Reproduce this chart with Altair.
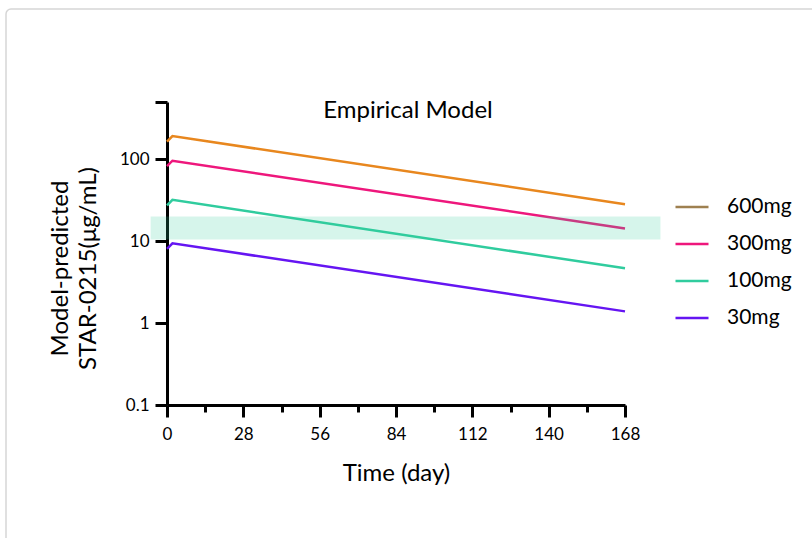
import altair as alt
import pandas as pd

# ---- data ----
doses = ["600mg", "300mg", "100mg", "30mg"]
days = [0, 2, 168]
conc_600 = [164, 192, 28.3]
conc_300 = [82.6, 96, 14.3]
conc_100 = [27.3, 32, 4.66]
conc_30 = [8.05, 9.42, 1.39]

band_days = [-6, 181]
band_low = 10.5
band_high = 20

x_major = [0, 28, 56, 84, 112, 140, 168]
x_minor = [14, 42, 70, 98, 126, 154]
y_ticks = [0.1, 1, 10, 100, 500]

line_colors = ["#E8871E", "#EE177C", "#30CC9E", "#6515F2"]
legend_colors = ["#9E8050", "#EE177C", "#30CC9E", "#6515F2"]

rows = []
for dose, vals in zip(doses, [conc_600, conc_300, conc_100, conc_30]):
    for d, v in zip(days, vals):
        rows.append({"dose": dose, "day": d, "conc": v})
df = pd.DataFrame(rows)
band_df = pd.DataFrame({"x0": [band_days[0]], "x1": [band_days[1]],
                        "lo": [band_low], "hi": [band_high]})

FONT = "Lato"
W, H = 458, 303
PL, PT = 167, 102

xscale = alt.Scale(domain=[0, 168], nice=False, zero=False)
yscale = alt.Scale(type="log", domain=[0.1, 500], nice=False)

y_axis = alt.Axis(
    values=y_ticks, format="~g",
    labelExpr="datum.value >= 500 ? '' : datum.label",
    title=["Model-predicted", "STAR-0215(\u03bcg/mL)"],
    titleFont=FONT, titleFontSize=24, titleFontWeight="normal", titleColor="black",
    titleAngle=-90, titleBaseline="middle", titleLineHeight=28,
    titleX=-107, titleY=166, titleAlign="center",
    labelFont=FONT, labelFontSize=17, labelColor="black", labelPadding=6,
    labelFlush=False,
    tickSize=12, tickWidth=3, tickColor="black",
    domainWidth=3, domainColor="black", grid=False,
)

x_axis = alt.Axis(
    values=x_major, title="Time (day)",
    titleFont=FONT, titleFontSize=24, titleFontWeight="normal", titleColor="black",
    titleBaseline="middle", titleY=68,
    labelFont=FONT, labelFontSize=17, labelColor="black", labelPadding=9,
    labelFlush=False,
    tickSize=12, tickWidth=3, tickColor="black",
    domainWidth=3, domainColor="black", grid=False, orient="bottom",
)

x_minor_axis = alt.Axis(
    values=x_minor, title=None, labels=False, domain=False,
    tickSize=7, tickWidth=3, tickColor="black", grid=False, orient="bottom",
)

lines = alt.Chart(df).mark_line(strokeWidth=2.5, clip=False).encode(
    x=alt.X("day:Q", scale=xscale, axis=x_axis),
    y=alt.Y("conc:Q", scale=yscale, axis=y_axis),
    color=alt.Color("dose:N", scale=alt.Scale(domain=doses, range=line_colors), legend=None),
    detail="dose:N",
)

legend_layer = alt.Chart(df).transform_filter("false").mark_line(strokeWidth=2.5).encode(
    x=alt.X("day:Q", scale=xscale, axis=x_minor_axis),
    y=alt.Y("conc:Q", scale=yscale, axis=y_axis),
    stroke=alt.Stroke(
        "dose:N", scale=alt.Scale(domain=doses, range=legend_colors),
        legend=alt.Legend(
            title=None, orient="none", legendX=507, legendY=87,
            symbolType="stroke", symbolSize=1089, symbolStrokeWidth=2.5,
            labelFont=FONT, labelFontSize=21, labelColor="black",
            labelOffset=17, rowPadding=9,
        ),
    ),
)

band = alt.Chart(band_df).mark_rect(fill="#33CC99", opacity=0.2, clip=False).encode(
    x=alt.X("x0:Q", scale=xscale, axis=None),
    x2="x1:Q",
    y=alt.Y("lo:Q", scale=yscale, axis=y_axis),
    y2="hi:Q",
)

frame = alt.Chart(pd.DataFrame({"a": [0]})).mark_rect(
    fill="transparent", stroke="#d6d6d6", strokeWidth=1.5, cornerRadius=5, clip=False
).encode(
    x=alt.value(6 - PL), y=alt.value(9 - PT), x2=alt.value(900), y2=alt.value(700)
)

chart = alt.layer(frame, lines, legend_layer, band).resolve_axis(
    x="independent"
).resolve_scale(color="independent").properties(
    width=W, height=H,
    padding={"left": PL, "top": PT, "right": 812 - PL - W, "bottom": 538 - PT - H},
    autosize=alt.AutoSizeParams(type="none"),
    title=alt.TitleParams("Empirical Model", font=FONT, fontSize=24, fontWeight="normal",
                          color="black", anchor="middle", offset=0, dx=12, dy=115),
).configure_view(stroke=None)

chart.save("out.html", embed_options={"renderer": "svg", "actions": False})
